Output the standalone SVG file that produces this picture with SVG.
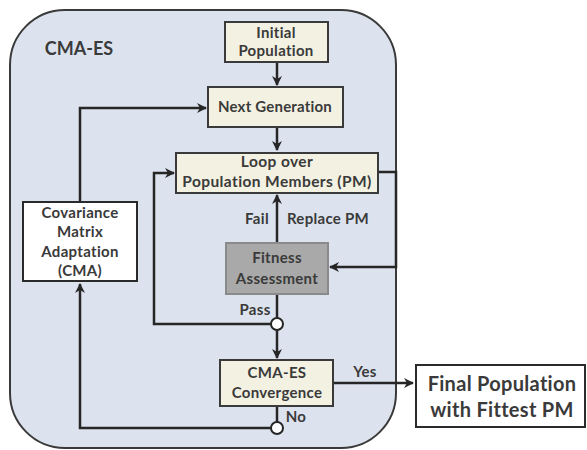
<svg xmlns="http://www.w3.org/2000/svg" width="587" height="450" viewBox="0 0 587 450">
<style>
.box{fill:#f3f1e2;stroke:#3a3a3a;stroke-width:2}
.wbox{fill:#ffffff;stroke:#2a2a2a;stroke-width:2}
.gbox{fill:#a9a9a9;stroke:#8a8a8a;stroke-width:2}
.t{font-family:Lato,"Liberation Sans",sans-serif;font-weight:bold;fill:#3a3a3a;text-anchor:middle}
.s{font-size:15px;letter-spacing:0.3px}
.c{fill:none;stroke:#262626;stroke-width:2.5}
.dot{fill:#ffffff;stroke:#262626;stroke-width:2}
</style>
<defs>
<marker id="ah" viewBox="0 0 10 10" refX="9" refY="5" markerWidth="4" markerHeight="4" orient="auto" markerUnits="strokeWidth">
<path d="M0,0 L10,5 L0,10 L3,5 z" fill="#262626"/>
</marker>
</defs>
<rect width="587" height="450" fill="#ffffff"/>
<g id="container">
<rect x="10" y="10" width="386" height="438" rx="55" ry="55" fill="#dde3ee" stroke="#3a3a3a" stroke-width="2"/>
<text class="t" x="79" y="55" font-size="18" fill="#333">CMA-ES</text>
</g>
<g id="connectors">
<path class="c" d="M277,62 V85" marker-end="url(#ah)"/>
<path class="c" d="M277,127 V150" marker-end="url(#ah)"/>
<path class="c" d="M80,202 V108 H206" marker-end="url(#ah)"/>
<path class="c" d="M277,243 V195" marker-end="url(#ah)"/>
<path class="c" d="M378,172 H396 V267 H330" marker-end="url(#ah)"/>
<path class="c" d="M277,294 V318"/>
<path class="c" d="M271,324 H154 V173 H174" marker-end="url(#ah)"/>
<path class="c" d="M277,330 V358" marker-end="url(#ah)"/>
<path class="c" d="M277,406 V422"/>
<path class="c" d="M271,428 H80 V284" marker-end="url(#ah)"/>
<path class="c" d="M333,383 H413" marker-end="url(#ah)"/>
<circle class="dot" cx="277" cy="324" r="6"/>
<circle class="dot" cx="277" cy="428" r="6"/>
<text class="t s" x="257" y="224">Fail</text>
<text class="t s" x="328" y="224">Replace PM</text>
<text class="t s" x="255" y="315">Pass</text>
<text class="t s" x="296" y="422">No</text>
<text class="t s" x="365" y="377">Yes</text>
</g>
<g id="initial">
<rect class="box" x="225" y="22" width="103" height="40"/>
<text class="t s" x="276" y="38">Initial</text>
<text class="t s" x="276" y="56">Population</text>
</g>
<g id="nextgen">
<rect class="box" x="208" y="87" width="135" height="40"/>
<text class="t" x="275" y="112" font-size="15" letter-spacing="0.2">Next Generation</text>
</g>
<g id="loop">
<rect class="box" x="176" y="153" width="202" height="40"/>
<text class="t" x="277" y="167" font-size="15.5" letter-spacing="0.4">Loop over</text>
<text class="t" x="277" y="187" font-size="15.5" letter-spacing="0.4">Population Members (PM)</text>
</g>
<g id="fitness">
<rect class="gbox" x="226" y="243" width="102" height="51"/>
<text class="t s" x="277" y="263">Fitness</text>
<text class="t s" x="277" y="284">Assessment</text>
</g>
<g id="cma">
<rect class="wbox" x="23" y="202" width="114" height="79"/>
<text class="t s" x="80" y="218">Covariance</text>
<text class="t s" x="80" y="237">Matrix</text>
<text class="t s" x="80" y="257">Adaptation</text>
<text class="t s" x="80" y="276">(CMA)</text>
</g>
<g id="convergence">
<rect class="box" x="220" y="360" width="113" height="46"/>
<text class="t s" x="277" y="378">CMA-ES</text>
<text class="t s" x="277" y="398">Convergence</text>
</g>
<g id="final">
<rect class="wbox" x="416" y="365" width="169" height="62"/>
<text class="t" x="502" y="391" font-size="20" letter-spacing="0.3">Final Population</text>
<text class="t" x="502" y="417" font-size="20" letter-spacing="0.3">with Fittest PM</text>
</g>
</svg>
